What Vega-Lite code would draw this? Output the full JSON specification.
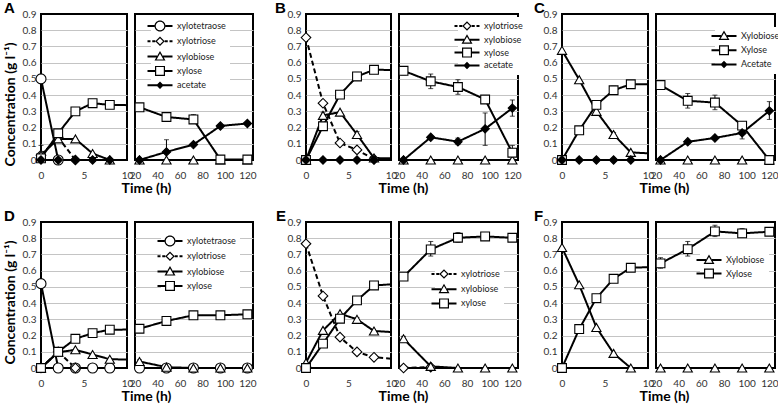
{
"$schema":"https://vega.github.io/schema/vega-lite/v6.json",
"background":"white",
"padding":{"left":2,"top":0,"right":0,"bottom":0},
"data":{"values":[
{"p":"A","s":"xylotetraose","t":0,"v":0.5},{"p":"A","s":"xylotetraose","t":2,"v":0},
{"p":"A","s":"xylotriose","t":0,"v":0.03},{"p":"A","s":"xylotriose","t":2,"v":0.14},{"p":"A","s":"xylotriose","t":4,"v":0},
{"p":"A","s":"xylobiose","t":0,"v":0.03,"lo":0,"hi":0.09},{"p":"A","s":"xylobiose","t":2,"v":0.13},{"p":"A","s":"xylobiose","t":4,"v":0.13},{"p":"A","s":"xylobiose","t":6,"v":0.04},{"p":"A","s":"xylobiose","t":8,"v":0},{"p":"A","s":"xylobiose","t":24,"v":0},{"p":"A","s":"xylobiose","t":48,"v":0},{"p":"A","s":"xylobiose","t":72,"v":0},{"p":"A","s":"xylobiose","t":96,"v":0},{"p":"A","s":"xylobiose","t":120,"v":0},
{"p":"A","s":"xylose","t":0,"v":0.01},{"p":"A","s":"xylose","t":2,"v":0.165},{"p":"A","s":"xylose","t":4,"v":0.3},{"p":"A","s":"xylose","t":6,"v":0.35},{"p":"A","s":"xylose","t":8,"v":0.34},{"p":"A","s":"xylose","t":24,"v":0.325,"lo":0.315,"hi":0.335},{"p":"A","s":"xylose","t":48,"v":0.265,"lo":0.245,"hi":0.29},{"p":"A","s":"xylose","t":72,"v":0.25,"lo":0.225,"hi":0.28},{"p":"A","s":"xylose","t":96,"v":0.003},{"p":"A","s":"xylose","t":120,"v":0.003},
{"p":"A","s":"acetate","t":0,"v":0},{"p":"A","s":"acetate","t":2,"v":0},{"p":"A","s":"acetate","t":4,"v":0},{"p":"A","s":"acetate","t":6,"v":0},{"p":"A","s":"acetate","t":8,"v":0},{"p":"A","s":"acetate","t":24,"v":0},{"p":"A","s":"acetate","t":48,"v":0.05,"lo":0,"hi":0.125},{"p":"A","s":"acetate","t":72,"v":0.095},{"p":"A","s":"acetate","t":96,"v":0.21},{"p":"A","s":"acetate","t":120,"v":0.225},

{"p":"B","s":"xylotriose","t":0,"v":0.755},{"p":"B","s":"xylotriose","t":2,"v":0.35},{"p":"B","s":"xylotriose","t":4,"v":0.105},{"p":"B","s":"xylotriose","t":6,"v":0.062},{"p":"B","s":"xylotriose","t":8,"v":0.005},
{"p":"B","s":"xylobiose","t":0,"v":0},{"p":"B","s":"xylobiose","t":2,"v":0.275,"lo":0.255,"hi":0.295},{"p":"B","s":"xylobiose","t":4,"v":0.295},{"p":"B","s":"xylobiose","t":6,"v":0.157,"lo":0.14,"hi":0.175},{"p":"B","s":"xylobiose","t":8,"v":0.012},{"p":"B","s":"xylobiose","t":24,"v":0},{"p":"B","s":"xylobiose","t":48,"v":0},{"p":"B","s":"xylobiose","t":72,"v":0},{"p":"B","s":"xylobiose","t":96,"v":0},{"p":"B","s":"xylobiose","t":120,"v":0},
{"p":"B","s":"xylose","t":0,"v":0},{"p":"B","s":"xylose","t":2,"v":0.208},{"p":"B","s":"xylose","t":4,"v":0.403},{"p":"B","s":"xylose","t":6,"v":0.515,"lo":0.49,"hi":0.54},{"p":"B","s":"xylose","t":8,"v":0.556},{"p":"B","s":"xylose","t":24,"v":0.55,"lo":0.525,"hi":0.575},{"p":"B","s":"xylose","t":48,"v":0.485,"lo":0.44,"hi":0.53},{"p":"B","s":"xylose","t":72,"v":0.45,"lo":0.405,"hi":0.495},{"p":"B","s":"xylose","t":96,"v":0.373,"lo":0.36,"hi":0.386},{"p":"B","s":"xylose","t":120,"v":0.045,"lo":0.005,"hi":0.09},
{"p":"B","s":"acetate","t":0,"v":0},{"p":"B","s":"acetate","t":2,"v":0},{"p":"B","s":"acetate","t":4,"v":0},{"p":"B","s":"acetate","t":6,"v":0},{"p":"B","s":"acetate","t":8,"v":0},{"p":"B","s":"acetate","t":24,"v":0},{"p":"B","s":"acetate","t":48,"v":0.14,"lo":0.13,"hi":0.15},{"p":"B","s":"acetate","t":72,"v":0.113,"lo":0.095,"hi":0.135},{"p":"B","s":"acetate","t":96,"v":0.192,"lo":0.09,"hi":0.29},{"p":"B","s":"acetate","t":120,"v":0.32,"lo":0.27,"hi":0.37},

{"p":"C","s":"xylobiose","t":0,"v":0.676},{"p":"C","s":"xylobiose","t":2,"v":0.495},{"p":"C","s":"xylobiose","t":4,"v":0.3},{"p":"C","s":"xylobiose","t":6,"v":0.157,"lo":0.145,"hi":0.17},{"p":"C","s":"xylobiose","t":8,"v":0.047},{"p":"C","s":"xylobiose","t":24,"v":0},{"p":"C","s":"xylobiose","t":48,"v":0},{"p":"C","s":"xylobiose","t":72,"v":0},{"p":"C","s":"xylobiose","t":96,"v":0},{"p":"C","s":"xylobiose","t":120,"v":0},
{"p":"C","s":"xylose","t":0,"v":0},{"p":"C","s":"xylose","t":2,"v":0.183},{"p":"C","s":"xylose","t":4,"v":0.34},{"p":"C","s":"xylose","t":6,"v":0.43,"lo":0.405,"hi":0.455},{"p":"C","s":"xylose","t":8,"v":0.467},{"p":"C","s":"xylose","t":24,"v":0.462,"lo":0.435,"hi":0.49},{"p":"C","s":"xylose","t":48,"v":0.365,"lo":0.32,"hi":0.41},{"p":"C","s":"xylose","t":72,"v":0.354,"lo":0.31,"hi":0.4},{"p":"C","s":"xylose","t":96,"v":0.212,"lo":0.19,"hi":0.235},{"p":"C","s":"xylose","t":120,"v":0},
{"p":"C","s":"acetate","t":0,"v":0},{"p":"C","s":"acetate","t":2,"v":0},{"p":"C","s":"acetate","t":4,"v":0},{"p":"C","s":"acetate","t":6,"v":0},{"p":"C","s":"acetate","t":8,"v":0},{"p":"C","s":"acetate","t":24,"v":0},{"p":"C","s":"acetate","t":48,"v":0.112},{"p":"C","s":"acetate","t":72,"v":0.136},{"p":"C","s":"acetate","t":96,"v":0.167,"lo":0.13,"hi":0.2},{"p":"C","s":"acetate","t":120,"v":0.303,"lo":0.25,"hi":0.36},

{"p":"D","s":"xylotetraose","t":0,"v":0.52},{"p":"D","s":"xylotetraose","t":2,"v":0},{"p":"D","s":"xylotetraose","t":4,"v":0},{"p":"D","s":"xylotetraose","t":6,"v":0},{"p":"D","s":"xylotetraose","t":8,"v":0},{"p":"D","s":"xylotetraose","t":24,"v":0},{"p":"D","s":"xylotetraose","t":48,"v":0},{"p":"D","s":"xylotetraose","t":72,"v":0},{"p":"D","s":"xylotetraose","t":96,"v":0},{"p":"D","s":"xylotetraose","t":120,"v":0},
{"p":"D","s":"xylotriose","t":0,"v":0},{"p":"D","s":"xylotriose","t":2,"v":0.1},{"p":"D","s":"xylotriose","t":4,"v":0},
{"p":"D","s":"xylobiose","t":0,"v":0},{"p":"D","s":"xylobiose","t":2,"v":0.097},{"p":"D","s":"xylobiose","t":4,"v":0.112},{"p":"D","s":"xylobiose","t":6,"v":0.083},{"p":"D","s":"xylobiose","t":8,"v":0.054},{"p":"D","s":"xylobiose","t":24,"v":0.04,"lo":0.03,"hi":0.05},{"p":"D","s":"xylobiose","t":48,"v":0.005},{"p":"D","s":"xylobiose","t":72,"v":0},{"p":"D","s":"xylobiose","t":96,"v":0},{"p":"D","s":"xylobiose","t":120,"v":0},
{"p":"D","s":"xylose","t":0,"v":0},{"p":"D","s":"xylose","t":2,"v":0.1},{"p":"D","s":"xylose","t":4,"v":0.18},{"p":"D","s":"xylose","t":6,"v":0.215},{"p":"D","s":"xylose","t":8,"v":0.236},{"p":"D","s":"xylose","t":24,"v":0.242},{"p":"D","s":"xylose","t":48,"v":0.29},{"p":"D","s":"xylose","t":72,"v":0.325,"lo":0.31,"hi":0.34},{"p":"D","s":"xylose","t":96,"v":0.325,"lo":0.315,"hi":0.335},{"p":"D","s":"xylose","t":120,"v":0.331},

{"p":"E","s":"xylotriose","t":0,"v":0.766},{"p":"E","s":"xylotriose","t":2,"v":0.444},{"p":"E","s":"xylotriose","t":4,"v":0.19},{"p":"E","s":"xylotriose","t":6,"v":0.099},{"p":"E","s":"xylotriose","t":8,"v":0.066},{"p":"E","s":"xylotriose","t":24,"v":0},{"p":"E","s":"xylotriose","t":48,"v":0.005},
{"p":"E","s":"xylobiose","t":0,"v":0.033},{"p":"E","s":"xylobiose","t":2,"v":0.232},{"p":"E","s":"xylobiose","t":4,"v":0.335},{"p":"E","s":"xylobiose","t":6,"v":0.3,"lo":0.29,"hi":0.31},{"p":"E","s":"xylobiose","t":8,"v":0.228},{"p":"E","s":"xylobiose","t":24,"v":0.18,"lo":0.165,"hi":0.195},{"p":"E","s":"xylobiose","t":48,"v":0.01},{"p":"E","s":"xylobiose","t":72,"v":0},{"p":"E","s":"xylobiose","t":96,"v":0},{"p":"E","s":"xylobiose","t":120,"v":0},
{"p":"E","s":"xylose","t":0,"v":0},{"p":"E","s":"xylose","t":2,"v":0.15},{"p":"E","s":"xylose","t":4,"v":0.304},{"p":"E","s":"xylose","t":6,"v":0.417},{"p":"E","s":"xylose","t":8,"v":0.509},{"p":"E","s":"xylose","t":24,"v":0.563},{"p":"E","s":"xylose","t":48,"v":0.731,"lo":0.69,"hi":0.78},{"p":"E","s":"xylose","t":72,"v":0.803,"lo":0.775,"hi":0.835},{"p":"E","s":"xylose","t":96,"v":0.811},{"p":"E","s":"xylose","t":120,"v":0.803},

{"p":"F","s":"xylobiose","t":0,"v":0.743},{"p":"F","s":"xylobiose","t":2,"v":0.513},{"p":"F","s":"xylobiose","t":4,"v":0.25},{"p":"F","s":"xylobiose","t":6,"v":0.09},{"p":"F","s":"xylobiose","t":8,"v":0},{"p":"F","s":"xylobiose","t":24,"v":0},{"p":"F","s":"xylobiose","t":48,"v":0},{"p":"F","s":"xylobiose","t":72,"v":0},{"p":"F","s":"xylobiose","t":96,"v":0},{"p":"F","s":"xylobiose","t":120,"v":0},
{"p":"F","s":"xylose","t":0,"v":0},{"p":"F","s":"xylose","t":2,"v":0.24},{"p":"F","s":"xylose","t":4,"v":0.431},{"p":"F","s":"xylose","t":6,"v":0.55},{"p":"F","s":"xylose","t":8,"v":0.618},{"p":"F","s":"xylose","t":24,"v":0.645,"lo":0.615,"hi":0.68},{"p":"F","s":"xylose","t":48,"v":0.733,"lo":0.69,"hi":0.78},{"p":"F","s":"xylose","t":72,"v":0.842,"lo":0.81,"hi":0.88},{"p":"F","s":"xylose","t":96,"v":0.83,"lo":0.805,"hi":0.86},{"p":"F","s":"xylose","t":120,"v":0.84}
]},
"concat":[
  {"width":86,"height":146,"title":{"text":"A","dx":-37},
   "transform":[{"filter":"datum.p == 'A' && datum.t <= 24"}],
   "encoding":{"x":{"field":"t","type":"quantitative","scale":{"domain":[0,10],"nice":false,"zero":false},"axis":{"values":[0,5,10],"title":"Time (h)","titleX":105,"titleY":28,"titleBaseline":"middle"}},
    "y":{"field":"v","type":"quantitative","scale":{"domain":[0,0.9],"nice":false,"zero":false},"axis":{"values":[0,0.1,0.2,0.3,0.4,0.5,0.6,0.7,0.8,0.9],"format":".1~f","gridOpacity":{"condition":{"test":"datum.value < 0.01 || datum.value > 0.89","value":0},"value":1},"title":"Concentration (g l⁻¹)","titleX":-31,"titleY":90,"titleBaseline":"middle"}}},
   "layer":[
    {"mark":{"type":"line","clip":true,"color":"black","strokeWidth":2},"encoding":{"detail":{"field":"s"},"strokeDash":{"field":"s","type":"nominal","scale":{"domain":["xylotetraose","xylotriose","xylobiose","xylose","acetate"],"range":[[1,0],[5,3],[1,0],[1,0],[1,0]]},"legend":null}}},
    {"transform":[{"filter":"isValid(datum.lo) && datum.t <= 10"}],"mark":{"type":"errorbar","ticks":{"size":5,"color":"black"},"rule":{"color":"black","strokeWidth":1}},"encoding":{"y":{"field":"lo","type":"quantitative"},"y2":{"field":"hi"}}},
    {"transform":[{"filter":"datum.t <= 10"}],"mark":{"type":"point","filled":true,"stroke":"black","strokeWidth":1.1,"opacity":1},"encoding":{"shape":{"field":"s","type":"nominal","scale":{"domain":["xylotetraose","xylotriose","xylobiose","xylose","acetate"],"range":["circle","diamond","triangle-up","square","diamond"]},"legend":null},"fill":{"field":"s","type":"nominal","scale":{"domain":["xylotetraose","xylotriose","xylobiose","xylose","acetate"],"range":["white","white","white","white","black"]},"legend":null},"size":{"field":"s","type":"nominal","scale":{"domain":["xylotetraose","xylotriose","xylobiose","xylose","acetate"],"range":[100,70,85,100,40]},"legend":null}}}
   ]},
  {"width":118,"height":146,
   "transform":[{"filter":"datum.p == 'A' && datum.t >= 24"}],
   "encoding":{"x":{"field":"t","type":"quantitative","scale":{"domain":[20,125],"nice":false,"zero":false},"axis":{"values":[20,40,60,80,100,120],"title":null}},
    "y":{"field":"v","type":"quantitative","scale":{"domain":[0,0.9],"nice":false,"zero":false},"axis":{"values":[0,0.1,0.2,0.3,0.4,0.5,0.6,0.7,0.8,0.9],"labels":false,"title":null,"gridOpacity":{"condition":{"test":"datum.value < 0.01 || datum.value > 0.89","value":0},"value":1}}}},
   "layer":[
    {"mark":{"type":"line","clip":true,"color":"black","strokeWidth":2},"encoding":{"detail":{"field":"s"},"strokeDash":{"field":"s","type":"nominal","scale":{"domain":["xylotetraose","xylotriose","xylobiose","xylose","acetate"],"range":[[1,0],[5,3],[1,0],[1,0],[1,0]]},"legend":null}}},
    {"transform":[{"filter":"isValid(datum.lo)"}],"mark":{"type":"errorbar","ticks":{"size":5,"color":"black"},"rule":{"color":"black","strokeWidth":1}},"encoding":{"y":{"field":"lo","type":"quantitative"},"y2":{"field":"hi"}}},
    {"mark":{"type":"point","filled":true,"stroke":"black","strokeWidth":1.1,"opacity":1},"encoding":{"shape":{"field":"s","type":"nominal","scale":{"domain":["xylotetraose","xylotriose","xylobiose","xylose","acetate"],"range":["circle","diamond","triangle-up","square","diamond"]},"legend":null},"fill":{"field":"s","type":"nominal","scale":{"domain":["xylotetraose","xylotriose","xylobiose","xylose","acetate"],"range":["white","white","white","white","black"]},"legend":null},"size":{"field":"s","type":"nominal","scale":{"domain":["xylotetraose","xylotriose","xylobiose","xylose","acetate"],"range":[100,70,85,100,40]},"legend":null}}},
    {"transform":[{"filter":"false"}],"mark":{"type":"point","filled":true,"color":"black","opacity":1,"strokeWidth":0},"encoding":{"shape":{"field":"s","type":"nominal","scale":{"domain":["xylotetraose","xylotriose","xylobiose","xylose","acetate"],"range":["M-2.5,-0.2H-1.1V0.2H-2.5ZM1.1,-0.2H2.5V0.2H1.1ZM1.1,0A1.1,1.1,0,1,1,-1.1,0A1.1,1.1,0,1,1,1.1,0ZM0.86,0A0.86,0.86,0,1,0,-0.86,0A0.86,0.86,0,1,0,0.86,0Z","M-2.5,-0.2H-1.9V0.2H-2.5ZM-1.55,-0.2H-0.95V0.2H-1.55ZM0.95,-0.2H1.55V0.2H0.95ZM1.9,-0.2H2.5V0.2H1.9ZM0,-0.95L0.95,0L0,0.95L-0.95,0ZM0,-0.61L-0.61,0L0,0.61L0.61,0Z","M-2.5,-0.2H-0.6V0.2H-2.5ZM0.6,-0.2H2.5V0.2H0.6ZM0,-1.1L1.1,0.8H-1.1ZM0,-0.62L-0.68,0.56H0.68Z","M-2.5,-0.2H-1V0.2H-2.5ZM1,-0.2H2.5V0.2H1ZM-1,-1H1V1H-1ZM-0.76,-0.76V0.76H0.76V-0.76Z","M-2.5,-0.2H2.5V0.2H-2.5ZM0,-0.75L0.75,0L0,0.75L-0.75,0Z"]},"legend":{"title":null,"orient":"none","legendX":16,"legendY":3,"rowPadding":4.3}}}}
   ],
   "resolve":{"scale":{"shape":"independent","fill":"independent","size":"independent"}}},
  {"width":37,"height":146,"data":{"values":[]},"mark":{"type":"point"},"view":{"stroke":null}},
  {"width":85,"height":146,"title":{"text":"B","dx":-31},
   "transform":[{"filter":"datum.p == 'B' && datum.t <= 24"}],
   "encoding":{"x":{"field":"t","type":"quantitative","scale":{"domain":[0,10],"nice":false,"zero":false},"axis":{"values":[0,5,10],"title":"Time (h)","titleX":97,"titleY":28,"titleBaseline":"middle"}},
    "y":{"field":"v","type":"quantitative","scale":{"domain":[0,0.9],"nice":false,"zero":false},"axis":{"values":[0,0.1,0.2,0.3,0.4,0.5,0.6,0.7,0.8,0.9],"format":".1~f","gridOpacity":{"condition":{"test":"datum.value < 0.01 || datum.value > 0.89","value":0},"value":1},"title":null}}},
   "layer":[
    {"mark":{"type":"line","clip":true,"color":"black","strokeWidth":2},"encoding":{"detail":{"field":"s"},"strokeDash":{"field":"s","type":"nominal","scale":{"domain":["xylotetraose","xylotriose","xylobiose","xylose","acetate"],"range":[[1,0],[5,3],[1,0],[1,0],[1,0]]},"legend":null}}},
    {"transform":[{"filter":"isValid(datum.lo) && datum.t <= 10"}],"mark":{"type":"errorbar","ticks":{"size":5,"color":"black"},"rule":{"color":"black","strokeWidth":1}},"encoding":{"y":{"field":"lo","type":"quantitative"},"y2":{"field":"hi"}}},
    {"transform":[{"filter":"datum.t <= 10"}],"mark":{"type":"point","filled":true,"stroke":"black","strokeWidth":1.1,"opacity":1},"encoding":{"shape":{"field":"s","type":"nominal","scale":{"domain":["xylotetraose","xylotriose","xylobiose","xylose","acetate"],"range":["circle","diamond","triangle-up","square","diamond"]},"legend":null},"fill":{"field":"s","type":"nominal","scale":{"domain":["xylotetraose","xylotriose","xylobiose","xylose","acetate"],"range":["white","white","white","white","black"]},"legend":null},"size":{"field":"s","type":"nominal","scale":{"domain":["xylotetraose","xylotriose","xylobiose","xylose","acetate"],"range":[100,70,85,100,40]},"legend":null}}}
   ]},
  {"width":119,"height":146,
   "transform":[{"filter":"datum.p == 'B' && datum.t >= 24"}],
   "encoding":{"x":{"field":"t","type":"quantitative","scale":{"domain":[20,125],"nice":false,"zero":false},"axis":{"values":[20,40,60,80,100,120],"title":null}},
    "y":{"field":"v","type":"quantitative","scale":{"domain":[0,0.9],"nice":false,"zero":false},"axis":{"values":[0,0.1,0.2,0.3,0.4,0.5,0.6,0.7,0.8,0.9],"labels":false,"title":null,"gridOpacity":{"condition":{"test":"datum.value < 0.01 || datum.value > 0.89","value":0},"value":1}}}},
   "layer":[
    {"mark":{"type":"line","clip":true,"color":"black","strokeWidth":2},"encoding":{"detail":{"field":"s"},"strokeDash":{"field":"s","type":"nominal","scale":{"domain":["xylotetraose","xylotriose","xylobiose","xylose","acetate"],"range":[[1,0],[5,3],[1,0],[1,0],[1,0]]},"legend":null}}},
    {"transform":[{"filter":"isValid(datum.lo)"}],"mark":{"type":"errorbar","ticks":{"size":5,"color":"black"},"rule":{"color":"black","strokeWidth":1}},"encoding":{"y":{"field":"lo","type":"quantitative"},"y2":{"field":"hi"}}},
    {"mark":{"type":"point","filled":true,"stroke":"black","strokeWidth":1.1,"opacity":1},"encoding":{"shape":{"field":"s","type":"nominal","scale":{"domain":["xylotetraose","xylotriose","xylobiose","xylose","acetate"],"range":["circle","diamond","triangle-up","square","diamond"]},"legend":null},"fill":{"field":"s","type":"nominal","scale":{"domain":["xylotetraose","xylotriose","xylobiose","xylose","acetate"],"range":["white","white","white","white","black"]},"legend":null},"size":{"field":"s","type":"nominal","scale":{"domain":["xylotetraose","xylotriose","xylobiose","xylose","acetate"],"range":[100,70,85,100,40]},"legend":null}}},
    {"transform":[{"filter":"false"}],"mark":{"type":"point","filled":true,"color":"black","opacity":1,"strokeWidth":0},"encoding":{"shape":{"field":"s","type":"nominal","scale":{"domain":["xylotriose","xylobiose","xylose","acetate"],"range":["M-2.5,-0.2H-1.9V0.2H-2.5ZM-1.55,-0.2H-0.95V0.2H-1.55ZM0.95,-0.2H1.55V0.2H0.95ZM1.9,-0.2H2.5V0.2H1.9ZM0,-0.95L0.95,0L0,0.95L-0.95,0ZM0,-0.61L-0.61,0L0,0.61L0.61,0Z","M-2.5,-0.2H-0.6V0.2H-2.5ZM0.6,-0.2H2.5V0.2H0.6ZM0,-1.1L1.1,0.8H-1.1ZM0,-0.62L-0.68,0.56H0.68Z","M-2.5,-0.2H-1V0.2H-2.5ZM1,-0.2H2.5V0.2H1ZM-1,-1H1V1H-1ZM-0.76,-0.76V0.76H0.76V-0.76Z","M-2.5,-0.2H2.5V0.2H-2.5ZM0,-0.75L0.75,0L0,0.75L-0.75,0Z"]},"legend":{"title":null,"orient":"none","legendX":59,"legendY":3,"rowPadding":2.8}}}}
   ],
   "resolve":{"scale":{"shape":"independent","fill":"independent","size":"independent"}}},
  {"width":28,"height":146,"data":{"values":[]},"mark":{"type":"point"},"view":{"stroke":null}},
  {"width":86,"height":146,"title":{"text":"C","dx":-28},
   "transform":[{"filter":"datum.p == 'C' && datum.t <= 24"}],
   "encoding":{"x":{"field":"t","type":"quantitative","scale":{"domain":[0,10],"nice":false,"zero":false},"axis":{"values":[0,5,10],"title":"Time (h)","titleX":102,"titleY":28,"titleBaseline":"middle"}},
    "y":{"field":"v","type":"quantitative","scale":{"domain":[0,0.9],"nice":false,"zero":false},"axis":{"values":[0,0.1,0.2,0.3,0.4,0.5,0.6,0.7,0.8,0.9],"format":".1~f","gridOpacity":{"condition":{"test":"datum.value < 0.01 || datum.value > 0.89","value":0},"value":1},"title":null}}},
   "layer":[
    {"mark":{"type":"line","clip":true,"color":"black","strokeWidth":2},"encoding":{"detail":{"field":"s"},"strokeDash":{"field":"s","type":"nominal","scale":{"domain":["xylotetraose","xylotriose","xylobiose","xylose","acetate"],"range":[[1,0],[5,3],[1,0],[1,0],[1,0]]},"legend":null}}},
    {"transform":[{"filter":"isValid(datum.lo) && datum.t <= 10"}],"mark":{"type":"errorbar","ticks":{"size":5,"color":"black"},"rule":{"color":"black","strokeWidth":1}},"encoding":{"y":{"field":"lo","type":"quantitative"},"y2":{"field":"hi"}}},
    {"transform":[{"filter":"datum.t <= 10"}],"mark":{"type":"point","filled":true,"stroke":"black","strokeWidth":1.1,"opacity":1},"encoding":{"shape":{"field":"s","type":"nominal","scale":{"domain":["xylotetraose","xylotriose","xylobiose","xylose","acetate"],"range":["circle","diamond","triangle-up","square","diamond"]},"legend":null},"fill":{"field":"s","type":"nominal","scale":{"domain":["xylotetraose","xylotriose","xylobiose","xylose","acetate"],"range":["white","white","white","white","black"]},"legend":null},"size":{"field":"s","type":"nominal","scale":{"domain":["xylotetraose","xylotriose","xylobiose","xylose","acetate"],"range":[100,70,85,100,40]},"legend":null}}}
   ]},
  {"width":119,"height":146,
   "transform":[{"filter":"datum.p == 'C' && datum.t >= 24"}],
   "encoding":{"x":{"field":"t","type":"quantitative","scale":{"domain":[20,125],"nice":false,"zero":false},"axis":{"values":[20,40,60,80,100,120],"title":null}},
    "y":{"field":"v","type":"quantitative","scale":{"domain":[0,0.9],"nice":false,"zero":false},"axis":{"values":[0,0.1,0.2,0.3,0.4,0.5,0.6,0.7,0.8,0.9],"labels":false,"title":null,"gridOpacity":{"condition":{"test":"datum.value < 0.01 || datum.value > 0.89","value":0},"value":1}}}},
   "layer":[
    {"mark":{"type":"line","clip":true,"color":"black","strokeWidth":2},"encoding":{"detail":{"field":"s"},"strokeDash":{"field":"s","type":"nominal","scale":{"domain":["xylotetraose","xylotriose","xylobiose","xylose","acetate"],"range":[[1,0],[5,3],[1,0],[1,0],[1,0]]},"legend":null}}},
    {"transform":[{"filter":"isValid(datum.lo)"}],"mark":{"type":"errorbar","ticks":{"size":5,"color":"black"},"rule":{"color":"black","strokeWidth":1}},"encoding":{"y":{"field":"lo","type":"quantitative"},"y2":{"field":"hi"}}},
    {"mark":{"type":"point","filled":true,"stroke":"black","strokeWidth":1.1,"opacity":1},"encoding":{"shape":{"field":"s","type":"nominal","scale":{"domain":["xylotetraose","xylotriose","xylobiose","xylose","acetate"],"range":["circle","diamond","triangle-up","square","diamond"]},"legend":null},"fill":{"field":"s","type":"nominal","scale":{"domain":["xylotetraose","xylotriose","xylobiose","xylose","acetate"],"range":["white","white","white","white","black"]},"legend":null},"size":{"field":"s","type":"nominal","scale":{"domain":["xylotetraose","xylotriose","xylobiose","xylose","acetate"],"range":[100,70,85,100,40]},"legend":null}}},
    {"transform":[{"filter":"false"}],"mark":{"type":"point","filled":true,"color":"black","opacity":1,"strokeWidth":0},"encoding":{"shape":{"field":"s","type":"nominal","scale":{"domain":["xylobiose","xylose","acetate"],"range":["M-2.5,-0.2H-0.6V0.2H-2.5ZM0.6,-0.2H2.5V0.2H0.6ZM0,-1.1L1.1,0.8H-1.1ZM0,-0.62L-0.68,0.56H0.68Z","M-2.5,-0.2H-1V0.2H-2.5ZM1,-0.2H2.5V0.2H1ZM-1,-1H1V1H-1ZM-0.76,-0.76V0.76H0.76V-0.76Z","M-2.5,-0.2H2.5V0.2H-2.5ZM0,-0.75L0.75,0L0,0.75L-0.75,0Z"]},"legend":{"title":null,"orient":"none","legendX":59,"legendY":13,"rowPadding":4.2,"labelExpr":"upper(slice(datum.label,0,1)) + slice(datum.label,1)"}}}}
   ],
   "resolve":{"scale":{"shape":"independent","fill":"independent","size":"independent"}}},

  {"width":86,"height":146,"title":{"text":"D","dx":-37},
   "transform":[{"filter":"datum.p == 'D' && datum.t <= 24"}],
   "encoding":{"x":{"field":"t","type":"quantitative","scale":{"domain":[0,10],"nice":false,"zero":false},"axis":{"values":[0,5,10],"title":"Time (h)","titleX":105,"titleY":28,"titleBaseline":"middle"}},
    "y":{"field":"v","type":"quantitative","scale":{"domain":[0,0.9],"nice":false,"zero":false},"axis":{"values":[0,0.1,0.2,0.3,0.4,0.5,0.6,0.7,0.8,0.9],"format":".1~f","gridOpacity":{"condition":{"test":"datum.value < 0.01 || datum.value > 0.89","value":0},"value":1},"title":"Concentration (g l⁻¹)","titleX":-31,"titleY":80,"titleBaseline":"middle"}}},
   "layer":[
    {"mark":{"type":"line","clip":true,"color":"black","strokeWidth":2},"encoding":{"detail":{"field":"s"},"strokeDash":{"field":"s","type":"nominal","scale":{"domain":["xylotetraose","xylotriose","xylobiose","xylose","acetate"],"range":[[1,0],[5,3],[1,0],[1,0],[1,0]]},"legend":null}}},
    {"transform":[{"filter":"isValid(datum.lo) && datum.t <= 10"}],"mark":{"type":"errorbar","ticks":{"size":5,"color":"black"},"rule":{"color":"black","strokeWidth":1}},"encoding":{"y":{"field":"lo","type":"quantitative"},"y2":{"field":"hi"}}},
    {"transform":[{"filter":"datum.t <= 10"}],"mark":{"type":"point","filled":true,"stroke":"black","strokeWidth":1.1,"opacity":1},"encoding":{"shape":{"field":"s","type":"nominal","scale":{"domain":["xylotetraose","xylotriose","xylobiose","xylose","acetate"],"range":["circle","diamond","triangle-up","square","diamond"]},"legend":null},"fill":{"field":"s","type":"nominal","scale":{"domain":["xylotetraose","xylotriose","xylobiose","xylose","acetate"],"range":["white","white","white","white","black"]},"legend":null},"size":{"field":"s","type":"nominal","scale":{"domain":["xylotetraose","xylotriose","xylobiose","xylose","acetate"],"range":[100,70,85,100,40]},"legend":null}}}
   ]},
  {"width":118,"height":146,
   "transform":[{"filter":"datum.p == 'D' && datum.t >= 24"}],
   "encoding":{"x":{"field":"t","type":"quantitative","scale":{"domain":[20,125],"nice":false,"zero":false},"axis":{"values":[20,40,60,80,100,120],"title":null}},
    "y":{"field":"v","type":"quantitative","scale":{"domain":[0,0.9],"nice":false,"zero":false},"axis":{"values":[0,0.1,0.2,0.3,0.4,0.5,0.6,0.7,0.8,0.9],"labels":false,"title":null,"gridOpacity":{"condition":{"test":"datum.value < 0.01 || datum.value > 0.89","value":0},"value":1}}}},
   "layer":[
    {"mark":{"type":"line","clip":true,"color":"black","strokeWidth":2},"encoding":{"detail":{"field":"s"},"strokeDash":{"field":"s","type":"nominal","scale":{"domain":["xylotetraose","xylotriose","xylobiose","xylose","acetate"],"range":[[1,0],[5,3],[1,0],[1,0],[1,0]]},"legend":null}}},
    {"transform":[{"filter":"isValid(datum.lo)"}],"mark":{"type":"errorbar","ticks":{"size":5,"color":"black"},"rule":{"color":"black","strokeWidth":1}},"encoding":{"y":{"field":"lo","type":"quantitative"},"y2":{"field":"hi"}}},
    {"mark":{"type":"point","filled":true,"stroke":"black","strokeWidth":1.1,"opacity":1},"encoding":{"shape":{"field":"s","type":"nominal","scale":{"domain":["xylotetraose","xylotriose","xylobiose","xylose","acetate"],"range":["circle","diamond","triangle-up","square","diamond"]},"legend":null},"fill":{"field":"s","type":"nominal","scale":{"domain":["xylotetraose","xylotriose","xylobiose","xylose","acetate"],"range":["white","white","white","white","black"]},"legend":null},"size":{"field":"s","type":"nominal","scale":{"domain":["xylotetraose","xylotriose","xylobiose","xylose","acetate"],"range":[100,70,85,100,40]},"legend":null}}},
    {"transform":[{"filter":"false"}],"mark":{"type":"point","filled":true,"color":"black","opacity":1,"strokeWidth":0},"encoding":{"shape":{"field":"s","type":"nominal","scale":{"domain":["xylotetraose","xylotriose","xylobiose","xylose"],"range":["M-2.5,-0.2H-1.1V0.2H-2.5ZM1.1,-0.2H2.5V0.2H1.1ZM1.1,0A1.1,1.1,0,1,1,-1.1,0A1.1,1.1,0,1,1,1.1,0ZM0.86,0A0.86,0.86,0,1,0,-0.86,0A0.86,0.86,0,1,0,0.86,0Z","M-2.5,-0.2H-1.9V0.2H-2.5ZM-1.55,-0.2H-0.95V0.2H-1.55ZM0.95,-0.2H1.55V0.2H0.95ZM1.9,-0.2H2.5V0.2H1.9ZM0,-0.95L0.95,0L0,0.95L-0.95,0ZM0,-0.61L-0.61,0L0,0.61L0.61,0Z","M-2.5,-0.2H-0.6V0.2H-2.5ZM0.6,-0.2H2.5V0.2H0.6ZM0,-1.1L1.1,0.8H-1.1ZM0,-0.62L-0.68,0.56H0.68Z","M-2.5,-0.2H-1V0.2H-2.5ZM1,-0.2H2.5V0.2H1ZM-1,-1H1V1H-1ZM-0.76,-0.76V0.76H0.76V-0.76Z"]},"legend":{"title":null,"orient":"none","legendX":26,"legendY":10,"rowPadding":4.3}}}}
   ],
   "resolve":{"scale":{"shape":"independent","fill":"independent","size":"independent"}}},
  {"width":37,"height":146,"data":{"values":[]},"mark":{"type":"point"},"view":{"stroke":null}},
  {"width":85,"height":146,"title":{"text":"E","dx":-30},
   "transform":[{"filter":"datum.p == 'E' && datum.t <= 24"}],
   "encoding":{"x":{"field":"t","type":"quantitative","scale":{"domain":[0,10],"nice":false,"zero":false},"axis":{"values":[0,5,10],"title":"Time (h)","titleX":97,"titleY":28,"titleBaseline":"middle"}},
    "y":{"field":"v","type":"quantitative","scale":{"domain":[0,0.9],"nice":false,"zero":false},"axis":{"values":[0,0.1,0.2,0.3,0.4,0.5,0.6,0.7,0.8,0.9],"format":".1~f","gridOpacity":{"condition":{"test":"datum.value < 0.01 || datum.value > 0.89","value":0},"value":1},"title":null}}},
   "layer":[
    {"mark":{"type":"line","clip":true,"color":"black","strokeWidth":2},"encoding":{"detail":{"field":"s"},"strokeDash":{"field":"s","type":"nominal","scale":{"domain":["xylotetraose","xylotriose","xylobiose","xylose","acetate"],"range":[[1,0],[5,3],[1,0],[1,0],[1,0]]},"legend":null}}},
    {"transform":[{"filter":"isValid(datum.lo) && datum.t <= 10"}],"mark":{"type":"errorbar","ticks":{"size":5,"color":"black"},"rule":{"color":"black","strokeWidth":1}},"encoding":{"y":{"field":"lo","type":"quantitative"},"y2":{"field":"hi"}}},
    {"transform":[{"filter":"datum.t <= 10"}],"mark":{"type":"point","filled":true,"stroke":"black","strokeWidth":1.1,"opacity":1},"encoding":{"shape":{"field":"s","type":"nominal","scale":{"domain":["xylotetraose","xylotriose","xylobiose","xylose","acetate"],"range":["circle","diamond","triangle-up","square","diamond"]},"legend":null},"fill":{"field":"s","type":"nominal","scale":{"domain":["xylotetraose","xylotriose","xylobiose","xylose","acetate"],"range":["white","white","white","white","black"]},"legend":null},"size":{"field":"s","type":"nominal","scale":{"domain":["xylotetraose","xylotriose","xylobiose","xylose","acetate"],"range":[100,70,85,100,40]},"legend":null}}}
   ]},
  {"width":119,"height":146,
   "transform":[{"filter":"datum.p == 'E' && datum.t >= 24"}],
   "encoding":{"x":{"field":"t","type":"quantitative","scale":{"domain":[20,125],"nice":false,"zero":false},"axis":{"values":[20,40,60,80,100,120],"title":null}},
    "y":{"field":"v","type":"quantitative","scale":{"domain":[0,0.9],"nice":false,"zero":false},"axis":{"values":[0,0.1,0.2,0.3,0.4,0.5,0.6,0.7,0.8,0.9],"labels":false,"title":null,"gridOpacity":{"condition":{"test":"datum.value < 0.01 || datum.value > 0.89","value":0},"value":1}}}},
   "layer":[
    {"mark":{"type":"line","clip":true,"color":"black","strokeWidth":2},"encoding":{"detail":{"field":"s"},"strokeDash":{"field":"s","type":"nominal","scale":{"domain":["xylotetraose","xylotriose","xylobiose","xylose","acetate"],"range":[[1,0],[5,3],[1,0],[1,0],[1,0]]},"legend":null}}},
    {"transform":[{"filter":"isValid(datum.lo)"}],"mark":{"type":"errorbar","ticks":{"size":5,"color":"black"},"rule":{"color":"black","strokeWidth":1}},"encoding":{"y":{"field":"lo","type":"quantitative"},"y2":{"field":"hi"}}},
    {"mark":{"type":"point","filled":true,"stroke":"black","strokeWidth":1.1,"opacity":1},"encoding":{"shape":{"field":"s","type":"nominal","scale":{"domain":["xylotetraose","xylotriose","xylobiose","xylose","acetate"],"range":["circle","diamond","triangle-up","square","diamond"]},"legend":null},"fill":{"field":"s","type":"nominal","scale":{"domain":["xylotetraose","xylotriose","xylobiose","xylose","acetate"],"range":["white","white","white","white","black"]},"legend":null},"size":{"field":"s","type":"nominal","scale":{"domain":["xylotetraose","xylotriose","xylobiose","xylose","acetate"],"range":[100,70,85,100,40]},"legend":null}}},
    {"transform":[{"filter":"false"}],"mark":{"type":"point","filled":true,"color":"black","opacity":1,"strokeWidth":0},"encoding":{"shape":{"field":"s","type":"nominal","scale":{"domain":["xylotriose","xylobiose","xylose"],"range":["M-2.5,-0.2H-1.9V0.2H-2.5ZM-1.55,-0.2H-0.95V0.2H-1.55ZM0.95,-0.2H1.55V0.2H0.95ZM1.9,-0.2H2.5V0.2H1.9ZM0,-0.95L0.95,0L0,0.95L-0.95,0ZM0,-0.61L-0.61,0L0,0.61L0.61,0Z","M-2.5,-0.2H-0.6V0.2H-2.5ZM0.6,-0.2H2.5V0.2H0.6ZM0,-1.1L1.1,0.8H-1.1ZM0,-0.62L-0.68,0.56H0.68Z","M-2.5,-0.2H-1V0.2H-2.5ZM1,-0.2H2.5V0.2H1ZM-1,-1H1V1H-1ZM-0.76,-0.76V0.76H0.76V-0.76Z"]},"legend":{"title":null,"orient":"none","legendX":36,"legendY":43,"rowPadding":4.2}}}}
   ],
   "resolve":{"scale":{"shape":"independent","fill":"independent","size":"independent"}}},
  {"width":28,"height":146,"data":{"values":[]},"mark":{"type":"point"},"view":{"stroke":null}},
  {"width":86,"height":146,"title":{"text":"F","dx":-28},
   "transform":[{"filter":"datum.p == 'F' && datum.t <= 24"}],
   "encoding":{"x":{"field":"t","type":"quantitative","scale":{"domain":[0,10],"nice":false,"zero":false},"axis":{"values":[0,5,10],"title":"Time (h)","titleX":102,"titleY":28,"titleBaseline":"middle"}},
    "y":{"field":"v","type":"quantitative","scale":{"domain":[0,0.9],"nice":false,"zero":false},"axis":{"values":[0,0.1,0.2,0.3,0.4,0.5,0.6,0.7,0.8,0.9],"format":".1~f","gridOpacity":{"condition":{"test":"datum.value < 0.01 || datum.value > 0.89","value":0},"value":1},"title":null}}},
   "layer":[
    {"mark":{"type":"line","clip":true,"color":"black","strokeWidth":2},"encoding":{"detail":{"field":"s"},"strokeDash":{"field":"s","type":"nominal","scale":{"domain":["xylotetraose","xylotriose","xylobiose","xylose","acetate"],"range":[[1,0],[5,3],[1,0],[1,0],[1,0]]},"legend":null}}},
    {"transform":[{"filter":"isValid(datum.lo) && datum.t <= 10"}],"mark":{"type":"errorbar","ticks":{"size":5,"color":"black"},"rule":{"color":"black","strokeWidth":1}},"encoding":{"y":{"field":"lo","type":"quantitative"},"y2":{"field":"hi"}}},
    {"transform":[{"filter":"datum.t <= 10"}],"mark":{"type":"point","filled":true,"stroke":"black","strokeWidth":1.1,"opacity":1},"encoding":{"shape":{"field":"s","type":"nominal","scale":{"domain":["xylotetraose","xylotriose","xylobiose","xylose","acetate"],"range":["circle","diamond","triangle-up","square","diamond"]},"legend":null},"fill":{"field":"s","type":"nominal","scale":{"domain":["xylotetraose","xylotriose","xylobiose","xylose","acetate"],"range":["white","white","white","white","black"]},"legend":null},"size":{"field":"s","type":"nominal","scale":{"domain":["xylotetraose","xylotriose","xylobiose","xylose","acetate"],"range":[100,70,85,100,40]},"legend":null}}}
   ]},
  {"width":119,"height":146,
   "transform":[{"filter":"datum.p == 'F' && datum.t >= 24"}],
   "encoding":{"x":{"field":"t","type":"quantitative","scale":{"domain":[20,125],"nice":false,"zero":false},"axis":{"values":[20,40,60,80,100,120],"title":null}},
    "y":{"field":"v","type":"quantitative","scale":{"domain":[0,0.9],"nice":false,"zero":false},"axis":{"values":[0,0.1,0.2,0.3,0.4,0.5,0.6,0.7,0.8,0.9],"labels":false,"title":null,"gridOpacity":{"condition":{"test":"datum.value < 0.01 || datum.value > 0.89","value":0},"value":1}}}},
   "layer":[
    {"mark":{"type":"line","clip":true,"color":"black","strokeWidth":2},"encoding":{"detail":{"field":"s"},"strokeDash":{"field":"s","type":"nominal","scale":{"domain":["xylotetraose","xylotriose","xylobiose","xylose","acetate"],"range":[[1,0],[5,3],[1,0],[1,0],[1,0]]},"legend":null}}},
    {"transform":[{"filter":"isValid(datum.lo)"}],"mark":{"type":"errorbar","ticks":{"size":5,"color":"black"},"rule":{"color":"black","strokeWidth":1}},"encoding":{"y":{"field":"lo","type":"quantitative"},"y2":{"field":"hi"}}},
    {"mark":{"type":"point","filled":true,"stroke":"black","strokeWidth":1.1,"opacity":1},"encoding":{"shape":{"field":"s","type":"nominal","scale":{"domain":["xylotetraose","xylotriose","xylobiose","xylose","acetate"],"range":["circle","diamond","triangle-up","square","diamond"]},"legend":null},"fill":{"field":"s","type":"nominal","scale":{"domain":["xylotetraose","xylotriose","xylobiose","xylose","acetate"],"range":["white","white","white","white","black"]},"legend":null},"size":{"field":"s","type":"nominal","scale":{"domain":["xylotetraose","xylotriose","xylobiose","xylose","acetate"],"range":[100,70,85,100,40]},"legend":null}}},
    {"transform":[{"filter":"false"}],"mark":{"type":"point","filled":true,"color":"black","opacity":1,"strokeWidth":0},"encoding":{"shape":{"field":"s","type":"nominal","scale":{"domain":["xylobiose","xylose"],"range":["M-2.5,-0.2H-0.6V0.2H-2.5ZM0.6,-0.2H2.5V0.2H0.6ZM0,-1.1L1.1,0.8H-1.1ZM0,-0.62L-0.68,0.56H0.68Z","M-2.5,-0.2H-1V0.2H-2.5ZM1,-0.2H2.5V0.2H1ZM-1,-1H1V1H-1ZM-0.76,-0.76V0.76H0.76V-0.76Z"]},"legend":{"title":null,"orient":"none","legendX":44,"legendY":29,"rowPadding":3.5,"labelExpr":"upper(slice(datum.label,0,1)) + slice(datum.label,1)"}}}}
   ],
   "resolve":{"scale":{"shape":"independent","fill":"independent","size":"independent"}}}
],
"columns":8,
"spacing":{"row":62,"column":8},
"bounds":"flush",
"align":"each",
"resolve":{"scale":{"shape":"independent","fill":"independent","size":"independent","strokeDash":"independent"}},
"config":{
 "font":"Lato",
 "view":{"stroke":"black","strokeWidth":2},
 "axis":{"labelFont":"Lato","labelFontSize":10,"labelColor":"#333333","ticks":false,"domain":false,"gridColor":"#c4c4c4","gridWidth":1,"titleFont":"Lato","titleFontSize":14,"titleFontWeight":"bold","titleColor":"black","labelFlush":false,"labelOverlap":false},
 "axisX":{"grid":false,"labelPadding":10},
 "axisY":{"labelPadding":5},
 "legend":{"symbolSize":100,"symbolStrokeWidth":0,"symbolOpacity":1,"labelFont":"Lato","labelFontSize":9,"labelColor":"#222222","labelOffset":12,"padding":4,"fillColor":"white"},
 "title":{"font":"Liberation Sans","fontSize":15,"fontWeight":"bold","color":"black","anchor":"start","frame":"group","offset":1,"dy":8}
}
}
